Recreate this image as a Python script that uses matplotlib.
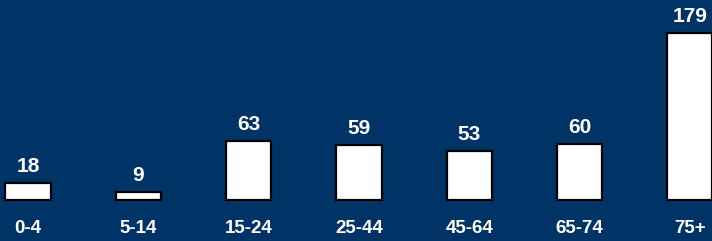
import matplotlib.pyplot as plt

age_groups = ['0-4', '5-14', '15-24', '25-44', '45-64', '65-74', '75+']
counts = [18, 9, 63, 59, 53, 60, 179]

bg = '#003366'
plt.rcParams['font.family'] = ['Liberation Sans', 'DejaVu Sans']

fig = plt.figure(figsize=(7.12, 2.41), dpi=100, facecolor=bg)
ax = fig.add_axes([0, 0, 1, 1])
ax.set_facecolor(bg)

x = range(len(counts))
bars = ax.bar(x, counts, width=0.41, color='white', edgecolor='black', linewidth=1.6)

for i, v in enumerate(counts):
    ax.annotate(str(v), (i, v), xytext=(0, 5), textcoords='offset points',
                ha='center', va='bottom', color='white', fontsize=15, fontweight='bold')
    ax.text(i, -30, age_groups[i], ha='center', va='center', color='white',
            fontsize=13.5, fontweight='bold')

ax.set_xlim(-0.254, 6.201)
ax.set_ylim(-43.9, 214.4)
ax.axis('off')

fig.savefig('out.png', dpi=100, facecolor=bg)
